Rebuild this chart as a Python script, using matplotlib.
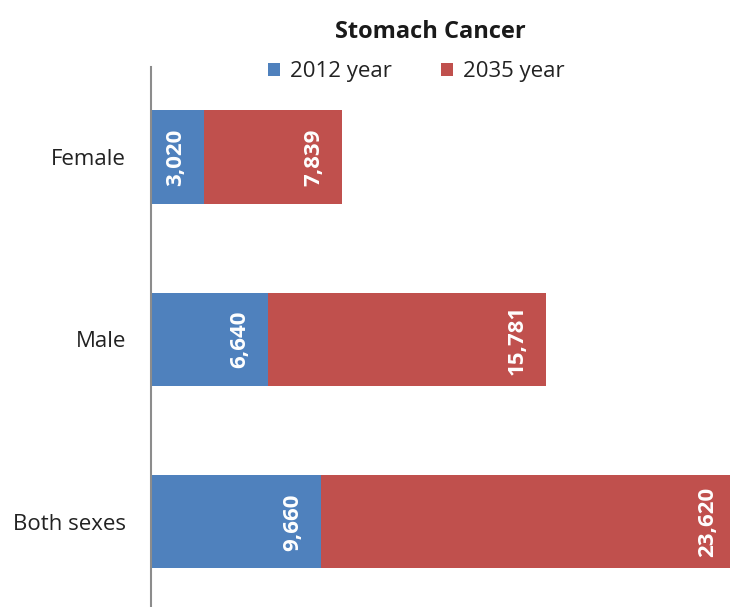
import matplotlib.pyplot as plt

# data
groups = ["Both sexes", "Male", "Female"]
cases_2012 = [9660, 6640, 3020]
cases_2035 = [23620, 15781, 7839]
series_names = ["2012 year", "2035 year"]
colors = ["#4F81BD", "#C0504D"]

plt.rcParams["font.family"] = ["Open Sans", "DejaVu Sans"]

fig = plt.figure(figsize=(7.3, 6.07), dpi=100)
W, H = 730, 607
# plot area in pixels: left 151, right 730, top 67, bottom 607
ax = fig.add_axes([151 / W, 0, (730 - 151) / W, (607 - 67) / H])

y = range(len(groups))
b1 = ax.barh(y, cases_2012, height=0.51, color=colors[0], label=series_names[0])
b2 = ax.barh(y, cases_2035, height=0.51, left=cases_2012, color=colors[1],
             label=series_names[1])

ax.set_xlim(0, 32900)
ax.set_ylim(-0.466, 2.493)
ax.set_yticks(list(y))
ax.set_yticklabels(groups, fontsize=16, color="#222222")
ax.tick_params(axis="y", length=0, pad=18)
ax.set_xticks([])
for side in ["top", "right", "bottom"]:
    ax.spines[side].set_visible(False)
ax.spines["left"].set_color("#8c8c8c")
ax.spines["left"].set_linewidth(1.5)

# value labels inside the end of each segment
for bars, vals in [(b1, cases_2012), (b2, cases_2035)]:
    for rect, v in zip(bars, vals):
        x_end = rect.get_x() + rect.get_width()
        yc = rect.get_y() + rect.get_height() / 2
        ax.annotate(f"{v:,}", xy=(x_end, yc), xytext=(-13, 0),
                    textcoords="offset points", rotation=90,
                    ha="right", va="center", color="white",
                    fontsize=16, fontweight="bold", annotation_clip=False)

fig.text(430 / W, 1 - 38 / H, "Stomach Cancer", ha="center", va="baseline",
         fontsize=17, fontweight="bold", color="#1a1a1a")

leg = fig.legend(handles=[b1, b2], labels=series_names,
                 loc="center", bbox_to_anchor=(416 / W, 1 - 72 / H),
                 ncol=2, frameon=False, fontsize=16, handlelength=0.55,
                 handleheight=0.55, handletextpad=0.45, columnspacing=2.2,
                 borderaxespad=0, borderpad=0)
for t in leg.get_texts():
    t.set_color("#222222")

fig.savefig("out.png", dpi=100)
